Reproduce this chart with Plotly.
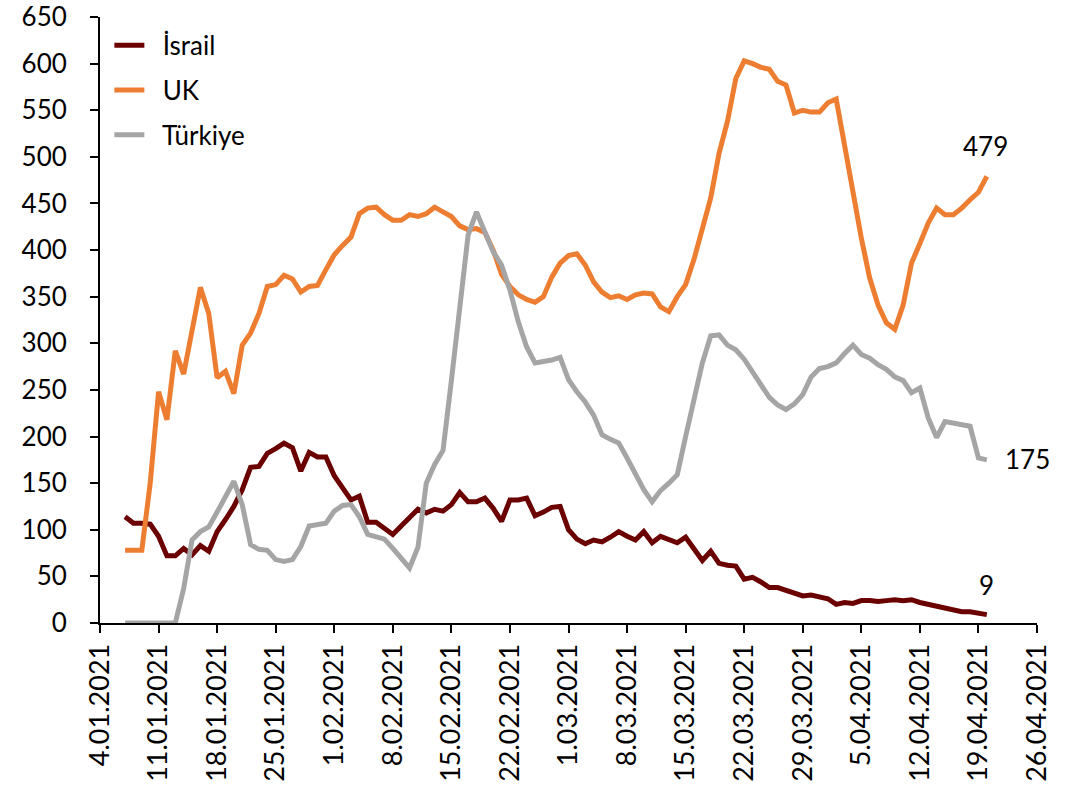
import pandas as pd
import plotly.graph_objects as go

# ---------------- data ----------------
dates = pd.date_range("2021-01-07", "2021-04-20", freq="D")

israel = [114, 107, 107, 106, 93, 72, 72, 80, 73, 83, 77, 98, 111, 125, 143, 167, 168,
          182, 187, 193, 188, 163, 183, 178, 178, 158, 145, 132, 136, 108, 108, 101, 95,
          104, 113, 122, 118, 122, 120, 127, 140, 130, 130, 134, 123, 109, 132, 132, 134,
          115, 119, 124, 125, 100, 90, 85, 89, 87, 92, 98, 93, 89, 98, 86, 93, 89, 86, 92,
          79, 67, 77, 64, 62, 61, 47, 49, 44, 38, 38, 35, 32, 29, 30, 28, 26, 20, 22, 21,
          24, 24, 23, 24, 25, 24, 25, 22, 20, 17, 15, 13, 12, 12, 10, 9]

uk = [78, 78, 78, 150, 248, 218, 292, 267, 313, 360, 332, 263, 270, 246, 298, 311, 332,
      361, 363, 373, 369, 355, 361, 362, 379, 395, 405, 414, 439, 445, 446, 438, 432, 432,
      438, 436, 439, 446, 441, 436, 426, 422, 423, 419, 400, 374, 361, 352, 347, 344, 350,
      371, 386, 394, 396, 384, 366, 355, 349, 351, 347, 352, 354, 353, 339, 334, 350, 363,
      390, 422, 456, 504, 538, 584, 603, 600, 596, 594, 581, 577, 547, 550, 548, 548, 558,
      562, 511, 461, 413, 370, 341, 322, 315, 341, 386, 407, 429, 445, 438, 438, 445, 454,
      462, 479]

turkiye = [0, 0, 0, 0, 0, 0, 0, 37, 89, 98, 103, 119, 136, 152, 127, 84, 79, 78, 68, 66,
           68, 82, 104, 105, 107, 120, 126, 127, 114, 95, 93, 90, 80, 69, 59, 81, 150, 170,
           185, 260, 336, 416, 441, 421, 398, 384, 357, 323, 296, 279, 280, 282, 285, 261,
           248, 237, 223, 202, 197, 193, 177, 160, 143, 130, 142, 150, 159, 200, 239, 279,
           308, 309, 298, 293, 283, 270, 255, 242, 234, 229, 235, 245, 264, 273, 275, 279,
           289, 298, 288, 284, 277, 272, 264, 260, 247, 252, 220, 199, 216, 214, 213, 211,
           177, 175]

series_names = ["İsrail", "UK", "Türkiye"]
series_colors = ["#6B0000", "#ED7D31", "#A5A5A5"]

tick_dates = ["2021-01-04", "2021-01-11", "2021-01-18", "2021-01-25", "2021-02-01",
              "2021-02-08", "2021-02-15", "2021-02-22", "2021-03-01", "2021-03-08",
              "2021-03-15", "2021-03-22", "2021-03-29", "2021-04-05", "2021-04-12",
              "2021-04-19", "2021-04-26"]
tick_labels = ["4.01.2021", "11.01.2021", "18.01.2021", "25.01.2021", "1.02.2021",
               "8.02.2021", "15.02.2021", "22.02.2021", "1.03.2021", "8.03.2021",
               "15.03.2021", "22.03.2021", "29.03.2021", "5.04.2021", "12.04.2021",
               "19.04.2021", "26.04.2021"]
y_ticks = list(range(0, 651, 50))

FONT = "Lato, 'Open Sans', sans-serif"
FS = 26

fig = go.Figure()
for name, vals, col in zip(series_names, [israel, uk, turkiye], series_colors):
    fig.add_trace(go.Scatter(
        x=dates, y=vals, mode="lines", name="  " + name,
        legendgroup=name,
        line=dict(color=col, width=5),
    ))

# end-of-series value labels
last = dates[-1]
fig.add_annotation(x=last, y=uk[-1], text=str(uk[-1]), showarrow=False,
                   yshift=30, xshift=-1, font=dict(family=FONT, size=FS, color="black"))
fig.add_annotation(x=last, y=turkiye[-1], text=str(turkiye[-1]), showarrow=False,
                   xshift=41, yshift=1, font=dict(family=FONT, size=FS, color="black"))
fig.add_annotation(x=last, y=israel[-1], text=str(israel[-1]), showarrow=False,
                   yshift=30, xshift=0, font=dict(family=FONT, size=FS, color="black"))

fig.update_layout(
    width=1076, height=794,
    margin=dict(l=100, r=39, t=17, b=171, autoexpand=False),
    paper_bgcolor="white", plot_bgcolor="white",
    font=dict(family=FONT, size=FS, color="black"),
    legend=dict(x=0.01, y=0.992, xanchor="left", yanchor="top",
                bgcolor="rgba(0,0,0,0)", borderwidth=0,
                font=dict(family=FONT, size=FS, color="black"),
                tracegroupgap=8),
    showlegend=True,
)
fig.update_xaxes(
    range=["2021-01-04", "2021-04-26"], automargin=False,
    tickmode="array", tickvals=tick_dates, ticktext=tick_labels,
    tickangle=-90, showgrid=False, zeroline=False,
    showline=True, linecolor="black", linewidth=2,
    ticks="outside", ticklen=8, tickwidth=2, tickcolor="black",
    ticklabeloverflow="allow",
    tickfont=dict(family=FONT, size=27, color="black"),
)
fig.update_yaxes(
    range=[0, 650], automargin=False, tickmode="array", tickvals=y_ticks,
    showgrid=False, zeroline=False,
    showline=True, linecolor="black", linewidth=2,
    ticks="outside", ticklen=8, tickwidth=2, tickcolor="black",
    ticklabelstandoff=18, ticklabeloverflow="allow",
    tickfont=dict(family=FONT, size=FS, color="black"),
)

fig.write_html("out.html", config={"displayModeBar": False},
               post_script="document.body.style.margin='0px';")
